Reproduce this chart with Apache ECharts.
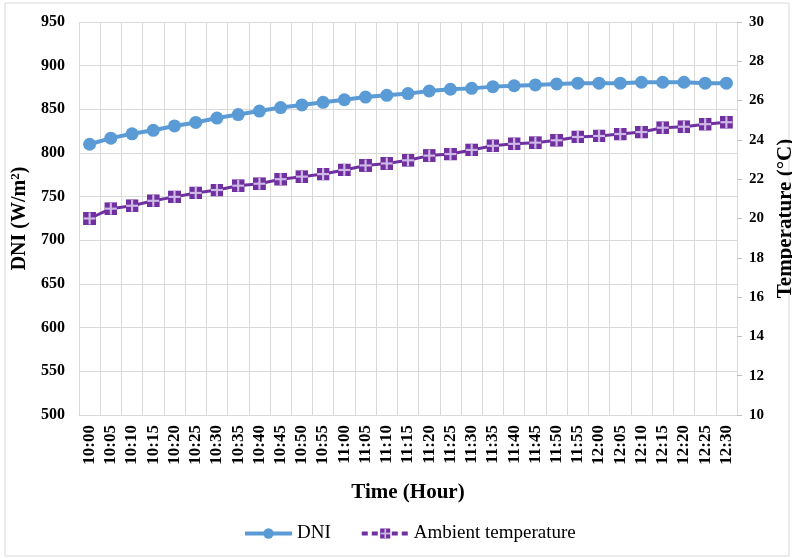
<!DOCTYPE html>
<html><head><meta charset="utf-8">
<script src="https://cdn.jsdelivr.net/npm/echarts@6/dist/echarts.min.js"></script>
<style>html,body{margin:0;padding:0;background:#fff}#c{width:792px;height:558px}</style>
</head><body><div id="c"></div>
<script>
const categories = ['10:00','10:05','10:10','10:15','10:20','10:25','10:30','10:35','10:40','10:45','10:50','10:55','11:00','11:05','11:10','11:15','11:20','11:25','11:30','11:35','11:40','11:45','11:50','11:55','12:00','12:05','12:10','12:15','12:20','12:25','12:30'];
const dni = [810,817,822,826,831,835,840,844,848,852,855,858,861,864,866,868,871,873,874,876,877,878,879,880,880,880,881,881,881,880,880];
const ambientTemp = [20.0,20.5,20.65,20.9,21.1,21.3,21.45,21.67,21.77,22.0,22.13,22.26,22.47,22.7,22.8,22.96,23.2,23.28,23.49,23.7,23.8,23.86,23.98,24.15,24.2,24.3,24.4,24.62,24.67,24.8,24.9];
const dniTicks = {min:500, max:950, interval:50};
const tempTicks = {min:10, max:30, interval:2};

const serif = '"Liberation Serif","Times New Roman",serif';
const svg = '<svg xmlns="http://www.w3.org/2000/svg" width="12" height="12" viewBox="0 0 12 12"><rect x="0" y="0" width="12" height="12" fill="#7030a0"/><rect x="5" y="0.5" width="2" height="11" fill="#cdb8e6"/><rect x="0.5" y="5" width="11" height="2" fill="#cdb8e6"/></svg>';
const tempSymbol = 'image://data:image/svg+xml;charset=utf-8,' + encodeURIComponent(svg);

const chart = echarts.init(document.getElementById('c'));
chart.setOption({
  animation:false,
  backgroundColor:'#fff',
  graphic:[{type:'rect',shape:{x:5,y:3,width:784,height:553},style:{fill:'none',stroke:'#d9d9d9',lineWidth:1},silent:true}],
  grid:{left:79,right:55,top:22,bottom:143,containLabel:false,outerBoundsMode:'none'},
  legend:{left:238,top:519,itemWidth:47,itemHeight:13,itemGap:29,
    textStyle:{fontFamily:serif,fontSize:19,color:'#000'},
    data:[{name:'DNI',lineStyle:{width:4}},{name:'Ambient temperature',lineStyle:{width:4,type:[6,4]}}]},
  xAxis:{type:'category',data:categories,boundaryGap:true,
    name:'Time (Hour)',nameLocation:'middle',nameGap:67,
    nameTextStyle:{fontFamily:serif,fontSize:21,fontWeight:'bold',color:'#000'},
    axisLine:{lineStyle:{color:'#d9d9d9'}},axisTick:{show:false},
    axisLabel:{rotate:90,interval:0,margin:10,fontFamily:serif,fontSize:17,fontWeight:'bold',color:'#000'},
    splitLine:{show:true,interval:0,lineStyle:{color:'#d9d9d9'}}},
  yAxis:[
    {type:'value',min:dniTicks.min,max:dniTicks.max,interval:dniTicks.interval,
     name:'DNI (W/m{sup|2})',nameLocation:'middle',nameGap:27,nameRotate:90,
     nameTextStyle:{fontFamily:serif,fontSize:20,fontWeight:'bold',color:'#000',
       rich:{sup:{fontFamily:serif,fontSize:13,fontWeight:'bold',color:'#000',verticalAlign:'top',padding:[0,0,8,0]}}},
     axisLine:{show:false},axisTick:{show:false},
     axisLabel:{margin:14,fontFamily:serif,fontSize:16,fontWeight:'bold',color:'#000'},
     splitLine:{lineStyle:{color:'#d9d9d9'}}},
    {type:'value',min:tempTicks.min,max:tempTicks.max,interval:tempTicks.interval,position:'right',
     name:'Temperature (°C)',nameLocation:'middle',nameGap:32,nameRotate:90,
     nameTextStyle:{fontFamily:serif,fontSize:21,fontWeight:'bold',color:'#000'},
     axisLine:{show:true,lineStyle:{color:'#d9d9d9'}},axisTick:{show:true,length:5,lineStyle:{color:'#bfbfbf'}},
     axisLabel:{margin:12,fontFamily:serif,fontSize:15,fontWeight:'bold',color:'#000'},
     splitLine:{show:false}}
  ],
  series:[
    {name:'DNI',type:'line',data:dni,yAxisIndex:0,symbol:'circle',symbolSize:13,
     lineStyle:{color:'#5b9bd5',width:4},itemStyle:{color:'#5b9bd5'}},
    {name:'Ambient temperature',type:'line',data:ambientTemp,yAxisIndex:1,symbol:tempSymbol,symbolSize:13,
     lineStyle:{color:'#7030a0',width:3},itemStyle:{color:'#7030a0'}}
  ]
});
</script></body></html>
